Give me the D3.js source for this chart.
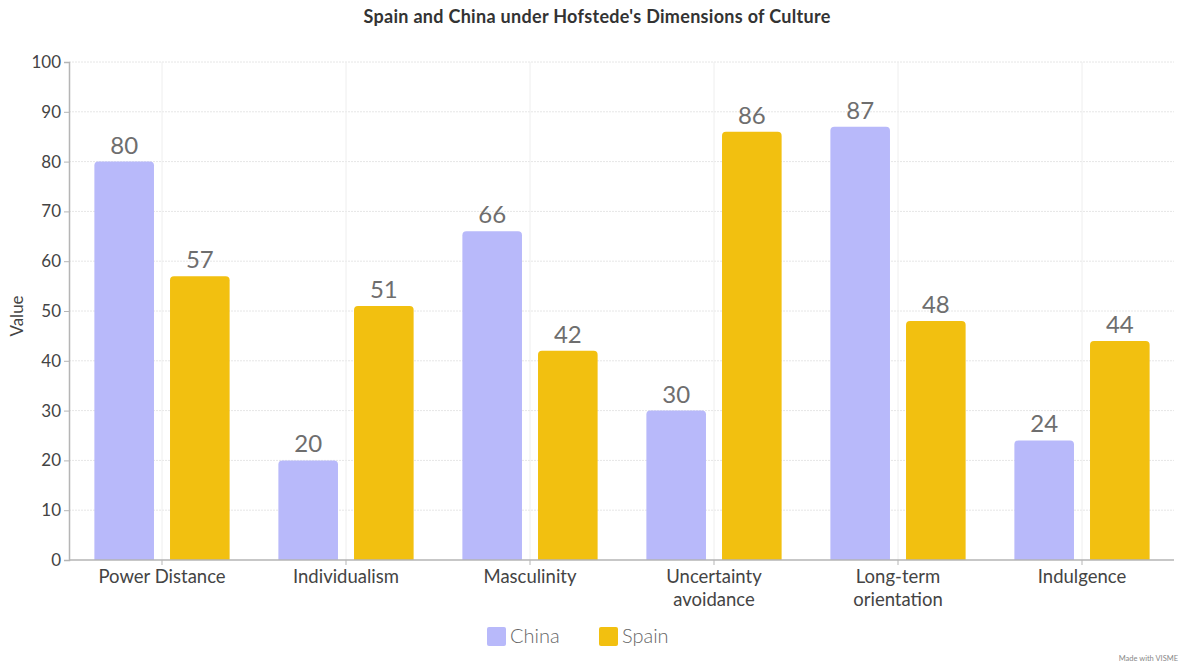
<!DOCTYPE html>
<html><head><meta charset="utf-8">
<script src="https://cdn.jsdelivr.net/npm/d3@7/dist/d3.min.js"></script>
<style>body{margin:0;background:#fff;}svg{display:block;font-family:Lato,"Open Sans",sans-serif;}</style>
</head><body>
<svg id="c" width="1183" height="663"></svg>
<script>
const categories = [["Power Distance"],["Individualism"],["Masculinity"],["Uncertainty","avoidance"],["Long-term","orientation"],["Indulgence"]];
const seriesNames = ["China","Spain"];
const china = [80,20,66,30,87,24];
const spain = [57,51,42,86,48,44];
const yTicks = [0,10,20,30,40,50,60,70,80,90,100];
const colors = ["#b8b9fa","#f2c010"];

const svg = d3.select("#c");
const m = {l:69, r:1174, t:62, b:560};
const keys = categories.map(c=>c.join(" "));
const x = d3.scaleBand().domain(keys).range([70, 1174]).paddingInner(0.265).paddingOuter(0.1325);
const x1 = d3.scaleBand().domain(seriesNames).range([0, x.bandwidth()]).paddingInner(0.212);
const y = d3.scaleLinear().domain([0,100]).range([m.b, m.t]);

svg.append("text").attr("x",597).attr("y",23).attr("text-anchor","middle")
  .attr("font-size",18).attr("letter-spacing",0.3).attr("font-weight",700).attr("fill","#333")
  .text("Spain and China under Hofstede's Dimensions of Culture");

// grid
const centers = keys.map(k=>x(k)+x.bandwidth()/2);
svg.append("g").selectAll("line").data(yTicks.filter(d=>d>0)).join("line")
  .attr("x1",m.l).attr("x2",m.r).attr("y1",d=>y(d)).attr("y2",d=>y(d))
  .attr("stroke","#e6e6e6").attr("stroke-dasharray","2,1");
svg.append("g").selectAll("line").data(centers).join("line")
  .attr("x1",d=>d).attr("x2",d=>d).attr("y1",m.t).attr("y2",m.b)
  .attr("stroke","#eeeeee");

// bars
const data = [];
keys.forEach((k,i)=>{data.push({k,s:"China",v:china[i],c:colors[0]});data.push({k,s:"Spain",v:spain[i],c:colors[1]});});
const r = 4;
svg.append("g").selectAll("path").data(data).join("path")
  .attr("fill",d=>d.c)
  .attr("d",d=>{
    const x0=x(d.k)+x1(d.s), w=x1.bandwidth(), y0=y(d.v), yb=y(0);
    return `M${x0},${yb}V${y0+r}Q${x0},${y0} ${x0+r},${y0}H${x0+w-r}Q${x0+w},${y0} ${x0+w},${y0+r}V${yb}Z`;
  });
svg.append("g").selectAll("text").data(data).join("text")
  .attr("x",d=>x(d.k)+x1(d.s)+x1.bandwidth()/2).attr("y",d=>y(d.v)-8)
  .attr("text-anchor","middle").attr("font-size",24).attr("fill","#6e6e6e").text(d=>d.v);

// axes
const ya = svg.append("g").attr("transform",`translate(${m.l},0)`)
  .call(d3.axisLeft(y).tickValues(yTicks).tickSize(5).tickPadding(3));
ya.select(".domain").attr("stroke","#b5b5b5").attr("stroke-width",1.5);
ya.selectAll(".tick line").attr("stroke","#b5b5b5");
ya.selectAll(".tick text").attr("font-size",17).attr("fill","#444").attr("font-family","Lato,sans-serif");

const xa = svg.append("g").attr("transform",`translate(0,${m.b})`)
  .call(d3.axisBottom(x).tickSize(5).tickSizeOuter(0).tickFormat(()=>""));
xa.select(".domain").attr("stroke","#b5b5b5").attr("stroke-width",1.5).attr("d",`M${m.l},0H${m.r}`);
xa.selectAll(".tick line").attr("stroke","#b5b5b5");
xa.selectAll(".tick").each(function(d,i){
  const t = d3.select(this).append("text").attr("fill","#444").attr("font-size",18.5)
    .attr("text-anchor","middle").attr("font-family","Lato,sans-serif");
  categories[i].forEach((line,j)=>t.append("tspan").attr("x",0).attr("y",23+j*23).text(line));
});

svg.append("text").attr("transform","translate(23,316) rotate(-90)").attr("text-anchor","middle")
  .attr("font-size",17).attr("fill","#444").text("Value");

// legend
const lg = svg.append("g");
const lx = [487, 599];
seriesNames.forEach((s,i)=>{
  lg.append("rect").attr("x",lx[i]).attr("y",627).attr("width",19).attr("height",19).attr("rx",2).attr("fill",colors[i]);
  lg.append("text").attr("x",lx[i]+23).attr("y",643).attr("font-size",20).attr("font-weight",300).attr("fill","#666").text(s);
});

svg.append("text").attr("x",1178).attr("y",661).attr("text-anchor","end").attr("font-size",7.5).attr("fill","#888").text("Made with VISME");
</script>
</body></html>
